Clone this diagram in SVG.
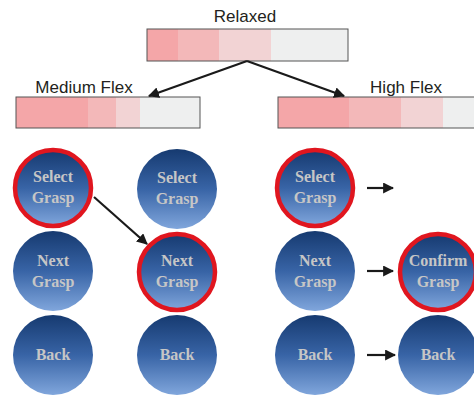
<svg xmlns="http://www.w3.org/2000/svg" width="474" height="395" viewBox="0 0 474 395">
<defs>
<linearGradient id="g" x1="0" y1="0" x2="0" y2="1">
<stop offset="0" stop-color="#163a70"/>
<stop offset="0.5" stop-color="#3864a6"/>
<stop offset="1" stop-color="#80a6dc"/>
</linearGradient>
<marker id="ah" viewBox="0 0 10 10" refX="9" refY="5" markerWidth="5" markerHeight="5" orient="auto" markerUnits="strokeWidth">
<path d="M0,0 L10,5 L0,10 z" fill="#1a1a1a"/>
</marker>
</defs>
<style>
.lbl{font-family:"Liberation Sans",Arial,sans-serif;font-size:17px;fill:#231f20;text-anchor:middle}
.ct{font-family:"Liberation Serif","Times New Roman",serif;font-weight:bold;font-size:16px;fill:#c6c6c6;text-anchor:middle}
.c{fill:url(#g)}
.sel{stroke:#e0161f;stroke-width:4.5}
.bar{fill:none;stroke:#555;stroke-width:1}
.s1{fill:#f4a6a8}.s2{fill:#f3b8b9}.s3{fill:#f2d3d4}.s4{fill:#eeefef}
.con{stroke:#1a1a1a;stroke-width:2.2;fill:none;marker-end:url(#ah)}
</style>
<rect width="474" height="395" fill="#fff"/>

<g id="relaxed">
<text class="lbl" x="245" y="22">Relaxed</text>
<rect class="s1" x="147" y="29" width="31" height="32"/>
<rect class="s2" x="178" y="29" width="41" height="32"/>
<rect class="s3" x="219" y="29" width="52" height="32"/>
<rect class="s4" x="271" y="29" width="77" height="32"/>
<rect class="bar" x="147" y="29" width="201" height="32"/>
</g>

<g id="medium-flex">
<text class="lbl" x="84" y="93">Medium Flex</text>
<rect class="s1" x="16" y="97" width="72" height="31"/>
<rect class="s2" x="88" y="97" width="28" height="31"/>
<rect class="s3" x="116" y="97" width="24" height="31"/>
<rect class="s4" x="140" y="97" width="60" height="31"/>
<rect class="bar" x="16" y="97" width="184" height="31"/>
</g>

<g id="high-flex">
<text class="lbl" x="406" y="93">High Flex</text>
<rect class="s1" x="278" y="97" width="71" height="31"/>
<rect class="s2" x="349" y="97" width="52" height="31"/>
<rect class="s3" x="401" y="97" width="42" height="31"/>
<rect class="s4" x="443" y="97" width="32" height="31"/>
<rect class="bar" x="278" y="97" width="200" height="31"/>
</g>

<g id="m-select"><circle class="c sel" cx="53" cy="188" r="38"/><text class="ct" x="53" y="182">Select</text><text class="ct" x="53" y="203">Grasp</text></g>
<g id="m-next"><circle class="c" cx="53" cy="271" r="40"/><text class="ct" x="53" y="266">Next</text><text class="ct" x="53" y="287">Grasp</text></g>
<g id="m-back"><circle class="c" cx="53" cy="355" r="40"/><text class="ct" x="53" y="360">Back</text></g>

<g id="m2-select"><circle class="c" cx="177" cy="189" r="40"/><text class="ct" x="177" y="183">Select</text><text class="ct" x="177" y="204">Grasp</text></g>
<g id="m2-next"><circle class="c sel" cx="177" cy="272" r="38"/><text class="ct" x="177" y="266">Next</text><text class="ct" x="177" y="287">Grasp</text></g>
<g id="m2-back"><circle class="c" cx="177" cy="355" r="40"/><text class="ct" x="177" y="360">Back</text></g>

<g id="h-select"><circle class="c sel" cx="315" cy="188" r="38"/><text class="ct" x="315" y="182">Select</text><text class="ct" x="315" y="203">Grasp</text></g>
<g id="h-next"><circle class="c" cx="315" cy="271" r="40"/><text class="ct" x="315" y="266">Next</text><text class="ct" x="315" y="287">Grasp</text></g>
<g id="h-back"><circle class="c" cx="315" cy="355" r="40"/><text class="ct" x="315" y="360">Back</text></g>

<g id="h2-confirm"><circle class="c sel" cx="438" cy="272" r="38"/><text class="ct" x="438" y="266">Confirm</text><text class="ct" x="438" y="287">Grasp</text></g>
<g id="h2-back"><circle class="c" cx="438" cy="355" r="40"/><text class="ct" x="438" y="360">Back</text></g>

<g id="connectors">
<line class="con" x1="247" y1="61" x2="149" y2="96"/>
<line class="con" x1="247" y1="61" x2="344" y2="96"/>
<line class="con" x1="94" y1="197" x2="147" y2="244"/>
<line class="con" x1="367" y1="188" x2="393" y2="188"/>
<line class="con" x1="367" y1="271" x2="393" y2="271"/>
<line class="con" x1="367" y1="355" x2="395" y2="355"/>
</g>
</svg>
